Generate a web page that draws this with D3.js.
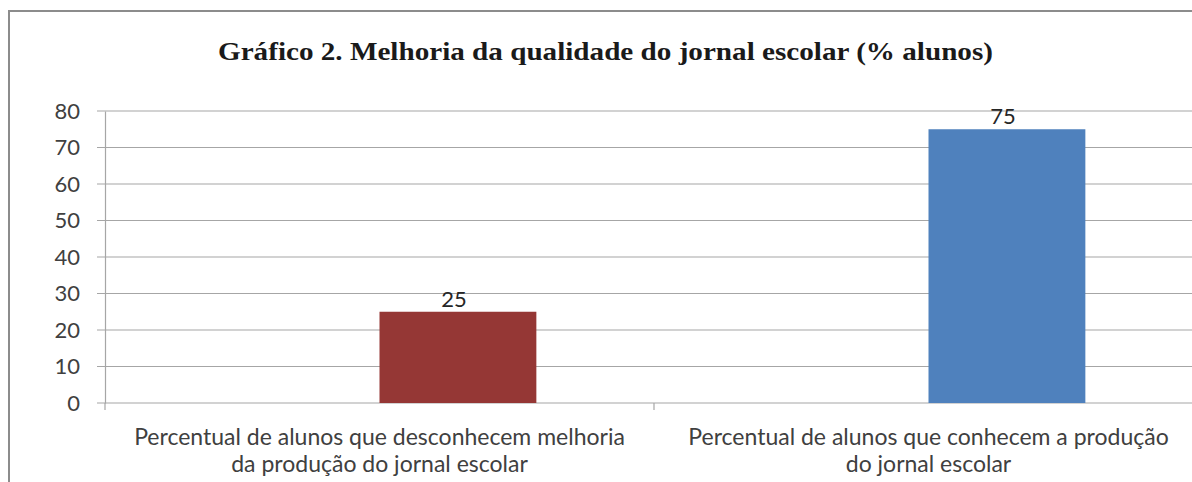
<!DOCTYPE html>
<html>
<head>
<meta charset="utf-8">
<script src="https://cdn.jsdelivr.net/npm/d3@7"></script>
<style>
  body { margin: 0; background: #fff; }
  svg { display: block; }
  .tick text { fill: #404040; }
</style>
</head>
<body>
<svg id="chart"></svg>
<script>
// chart data
const chartTitle = "Gráfico 2. Melhoria da qualidade do jornal escolar (% alunos)";
const categories = [
  ["Percentual de alunos que desconhecem melhoria", "da produção do jornal escolar"],
  ["Percentual de alunos que conhecem a produção", "do jornal escolar"]
];
const values = [25, 75];
const barColors = ["#953735", "#4f81bd"];
const yTicks = [0, 10, 20, 30, 40, 50, 60, 70, 80];

const W = 1192, H = 482;
const margin = { top: 111, left: 105, bottom: 79 };
const bandWidth = 549;
const plotH = H - margin.top - margin.bottom;

const svg = d3.select("#chart").attr("width", W).attr("height", H);

// outer frame (cropped on right and bottom)
svg.append("rect")
  .attr("x", 9).attr("y", 11)
  .attr("width", W + 20).attr("height", H + 20)
  .attr("fill", "none").attr("stroke", "#8c8c8c").attr("stroke-width", 2);

svg.append("text")
  .attr("x", 218).attr("y", 60)
  .attr("font-family", "Liberation Serif")
  .attr("font-weight", "bold")
  .attr("font-size", 26)
  .attr("fill", "#1a1a1a")
  .attr("textLength", 775)
  .attr("lengthAdjust", "spacingAndGlyphs")
  .text(chartTitle);

const g = svg.append("g").attr("transform", `translate(${margin.left}, ${margin.top})`);

const x = d3.scaleBand()
  .domain(d3.range(categories.length))
  .range([0, bandWidth * categories.length]);

const y = d3.scaleLinear().domain([0, 80]).range([plotH, 0]);

// gridlines
g.selectAll("line.grid")
  .data(yTicks)
  .enter()
  .append("line")
  .attr("class", "grid")
  .attr("x1", -8).attr("x2", W)
  .attr("y1", (d) => y(d)).attr("y2", (d) => y(d))
  .attr("stroke", "#a6a6a6").attr("stroke-width", 1.2);

// y axis
const yAxis = g.append("g")
  .call(d3.axisLeft(y).tickValues(yTicks).tickSize(0).tickPadding(25));
yAxis.select(".domain").attr("stroke", "#a6a6a6").attr("stroke-width", 1.2);
yAxis.selectAll("text")
  .attr("font-family", "Lato")
  .attr("font-size", 22);

// x axis boundary ticks
g.selectAll("line.xtick")
  .data(d3.range(categories.length))
  .enter()
  .append("line")
  .attr("class", "xtick")
  .attr("x1", (d) => x(d)).attr("x2", (d) => x(d))
  .attr("y1", plotH).attr("y2", plotH + 7)
  .attr("stroke", "#a6a6a6").attr("stroke-width", 1.2);

// bars: second slot of a two-series cluster, gap width 150%
const slot = x.bandwidth() / 3.5;
g.selectAll("rect.bar")
  .data(values)
  .enter()
  .append("rect")
  .attr("class", "bar")
  .attr("x", (d, i) => x(i) + x.bandwidth() / 2)
  .attr("y", (d) => y(d))
  .attr("width", slot)
  .attr("height", (d) => plotH - y(d))
  .attr("fill", (d, i) => barColors[i]);

g.selectAll("text.val")
  .data(values)
  .enter()
  .append("text")
  .attr("class", "val")
  .attr("x", (d, i) => x(i) + x.bandwidth() / 2 + slot / 2 - 4)
  .attr("y", (d) => y(d) - 5)
  .attr("text-anchor", "middle")
  .attr("font-family", "Lato")
  .attr("font-size", 22)
  .attr("fill", "#262626")
  .text((d) => d);

// category labels, two lines each, centred on the band
const cat = g.selectAll("text.cat")
  .data(categories)
  .enter()
  .append("text")
  .attr("class", "cat")
  .attr("text-anchor", "middle")
  .attr("font-family", "Lato")
  .attr("font-size", 23)
  .attr("fill", "#404040")
  .attr("transform", (d, i) => `translate(${x(i) + x.bandwidth() / 2}, ${plotH + 42})`);
cat.selectAll("tspan")
  .data((d) => d)
  .enter()
  .append("tspan")
  .attr("x", 0)
  .attr("dy", (d, i) => (i === 0 ? 0 : 27))
  .text((d) => d);
</script>
</body>
</html>
